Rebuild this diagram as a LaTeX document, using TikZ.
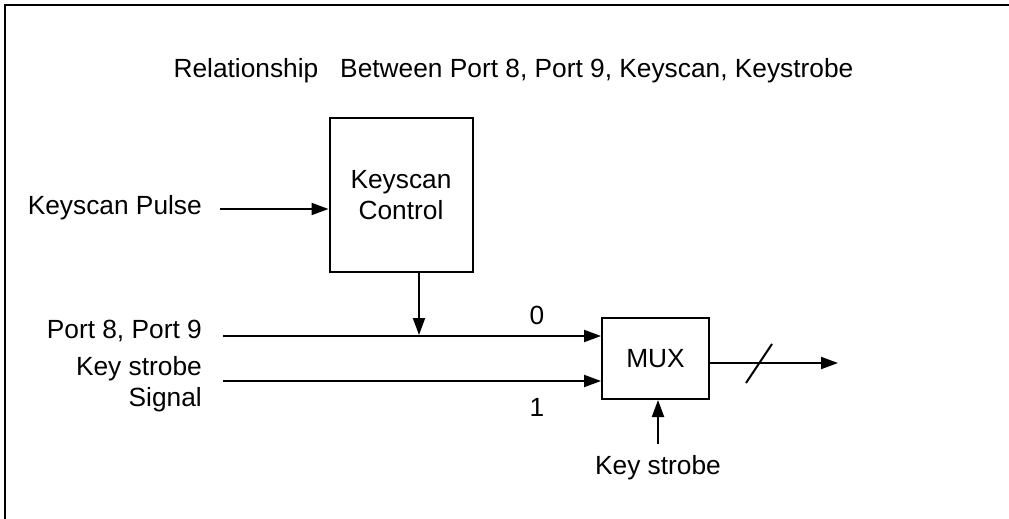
\documentclass[tikz,border=0pt]{standalone}
\usepackage{fontspec}
\setmainfont{Liberation Sans}
\usetikzlibrary{arrows.meta, positioning}

\begin{document}
\begin{tikzpicture}[
        x=1pt, y=-1pt,
        every node/.style={font=\fontsize{26.3}{31.5}\selectfont, inner sep=0pt},
        block/.style={draw, line width=2pt},
        sig/.style={-{Triangle[length=17pt, width=12pt]}, line width=2pt}
        ]
        \useasboundingbox (0,0) rectangle (1009,519);

        % frame, cut off on the right and at the bottom
        \draw[line width=2.5pt] (5,519) -- (5,5) -- (1009,5);

        \node (title) at (513.5,71) {Relationship\ \ \ Between Port 8, Port 9, Keyscan, Keystrobe};

        % keyscan control
        \node[block, align=center, minimum width=143pt, minimum height=154pt] (ctrl) at (401,195) {Keyscan\\Control};
        \node[anchor=east] (pulselbl) at (202,208) {Keyscan Pulse};
        \coordinate (pulse) at (220,209);
        \draw[sig] (pulse) -- (ctrl.west |- pulse);

        % mux inputs
        \node[block, minimum width=107pt, minimum height=81pt] (mux) at (655.5,358.5) {MUX};
        \node[anchor=east] (portlbl) at (202,331) {Port 8, Port 9};
        \node[anchor=east, align=right] (strobelbl) at (202,384) {Key strobe\\Signal};
        \coordinate (portin) at (223,336);
        \coordinate (strobein) at (223,381);
        \coordinate (tap) at (419,335);
        \draw[sig] (portin) -- (mux.west |- portin);
        \draw[sig] (strobein) -- (mux.west |- strobein);
        \draw[sig] (ctrl.south -| tap) -- (tap);
        \node (zero) at (537,315) {0};
        \node (one) at (537,407) {1};

        % mux output and select
        \coordinate (muxout) at (838,363);
        \draw[sig] (mux.east |- muxout) -- (muxout);
        \draw[line width=2pt] (746,383) -- (772,344);
        \node (sellbl) at (658,468) {Key strobe};
        \coordinate (sel) at (658,444);
        \draw[sig] (sel) -- (mux.south -| sel);
    \end{tikzpicture}
\end{document}
